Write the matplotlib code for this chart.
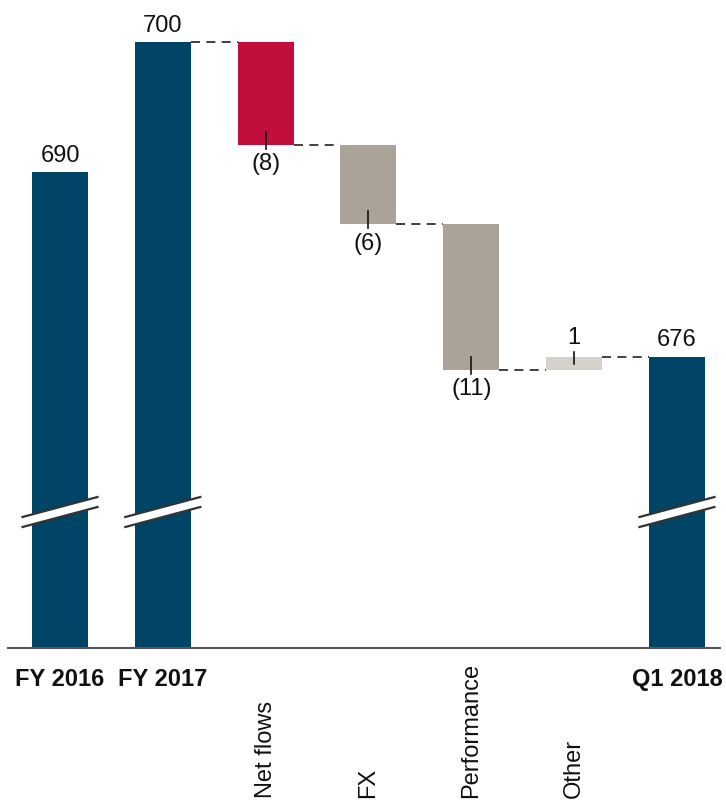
import matplotlib
matplotlib.use("Agg")
import matplotlib.pyplot as plt
from matplotlib.patches import Polygon

plt.rcParams['font.family'] = ['Liberation Sans', 'DejaVu Sans']

# ---- data ----
categories = ["FY 2016", "FY 2017", "Net flows", "FX", "Performance", "Other", "Q1 2018"]
kinds = ["total", "total", "delta", "delta", "delta", "delta", "total"]
values = [690.0, 700.0, -7.9, -6.1, -11.2, 1.0, 675.8]
bold_labels = [True, True, False, False, False, False, True]

C_TOTAL = "#004466"
C_NEG_FLOW = "#C20E3A"
C_NEG = "#ABA298"
C_POS = "#D6D1CB"
bar_colors = [C_TOTAL, C_TOTAL, C_NEG_FLOW, C_NEG, C_NEG, C_POS, C_TOTAL]

FS = 17

W, H, DPI = 726, 803, 100
fig = plt.figure(figsize=(W / DPI, H / DPI), dpi=DPI)

# pixel geometry
px_per_unit_x = 102.83
x0_px = 60.0
ax_left_px, ax_right_px = 8, 720
base_px = 649
px_per_unit_y = 13.0
top_val = 700.0
top_px = 43.0

xlim = ((ax_left_px - x0_px) / px_per_unit_x, (ax_right_px - x0_px) / px_per_unit_x)
ylim = (top_val - (base_px - top_px) / px_per_unit_y, top_val + top_px / px_per_unit_y)

ax = fig.add_axes([ax_left_px / W, (H - base_px) / H, (ax_right_px - ax_left_px) / W, base_px / H])
ax.set_xlim(*xlim)
ax.set_ylim(*ylim)
for s in ["top", "right", "left"]:
    ax.spines[s].set_visible(False)
ax.spines["bottom"].set_color("#555555")
ax.spines["bottom"].set_linewidth(1.5)
ax.set_yticks([])
ax.set_xticks([])

bw = 56 / px_per_unit_x
base = ylim[0]
ux = 1.0 / px_per_unit_x   # data per px in x
uy = 1.0 / px_per_unit_y   # data per px in y

level = None
levels_after = []
bottoms = []
tops = []
for i, (k, v) in enumerate(zip(kinds, values)):
    if k == "total":
        b, t = base, v
        level = v
    else:
        new = level + v
        b, t = min(level, new), max(level, new)
        level = new
    bottoms.append(b)
    tops.append(t)
    levels_after.append(level)
    ax.bar(i, t - b, bottom=b, width=bw, color=bar_colors[i], linewidth=0, zorder=2)

# connectors (only where a change is involved)
for i in range(len(values) - 1):
    if kinds[i] == "total" and kinds[i + 1] == "total":
        continue
    lv = levels_after[i]
    ax.plot([i + bw / 2, i + 1 - bw / 2], [lv, lv], color="#333333", lw=1.3,
            dashes=(5, 3.5), zorder=1, solid_capstyle="butt")

# labels on bars
for i, (k, v) in enumerate(zip(kinds, values)):
    if k == "total":
        txt = f"{round(v):d}"
        ax.annotate(txt, (i, tops[i]), xytext=(0, 4.5), textcoords="offset points",
                    ha="center", va="bottom", fontsize=FS, color="#111111")
    elif v < 0:
        txt = f"({round(abs(v)):d})"
        ax.plot([i, i], [bottoms[i] + 13 * uy, bottoms[i] - 4 * uy], color="#111111", lw=1.2, zorder=3)
        ax.annotate(txt, (i, bottoms[i]), xytext=(0, -5.5), textcoords="offset points",
                    ha="center", va="top", fontsize=FS, color="#111111")
    else:
        txt = f"{round(v):d}"
        ax.plot([i, i], [tops[i] + 5 * uy, tops[i] - 7 * uy], color="#111111", lw=1.2, zorder=3)
        ax.annotate(txt, (i, tops[i]), xytext=(0, 6), textcoords="offset points",
                    ha="center", va="bottom", fontsize=FS, color="#111111")

# axis break marks on total bars
yc = top_val - (513 - top_px) / px_per_unit_y
hw = 37.5 * ux
slope_h = 10 * uy
gap_h = 5 * uy
for i, k in enumerate(kinds):
    if k != "total":
        continue
    xl, xr = i - hw, i + hw
    up_l, up_r = yc + gap_h - slope_h, yc + gap_h + slope_h
    lo_l, lo_r = yc - gap_h - slope_h, yc - gap_h + slope_h
    poly = Polygon([[xl, up_l], [xr, up_r], [xr, lo_r], [xl, lo_l]], closed=True,
                   facecolor="white", edgecolor="none", zorder=4)
    ax.add_patch(poly)
    ax.plot([xl, xr], [up_l, up_r], color="#333333", lw=1.6, zorder=5)
    ax.plot([xl, xr], [lo_l, lo_r], color="#333333", lw=1.6, zorder=5)

# category labels
for i, (cat, b) in enumerate(zip(categories, bold_labels)):
    if b:
        ax.annotate(cat, (i, base), xytext=(0, -13.5), textcoords="offset points",
                    ha="center", va="top", fontsize=FS, fontweight="bold", color="#111111",
                    annotation_clip=False)
    else:
        ax.text(i, ylim[0] - (798 - base_px) * uy, cat, rotation=90, ha="center", va="bottom",
                fontsize=FS, color="#111111", clip_on=False)

fig.savefig("out.png", dpi=DPI)
